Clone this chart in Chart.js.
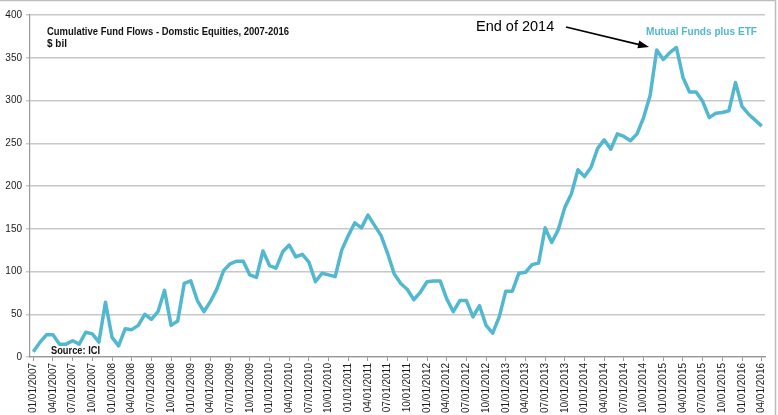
<!DOCTYPE html>
<html>
<head>
<meta charset="utf-8">
<script src="https://cdn.jsdelivr.net/npm/chart.js@4/dist/chart.umd.min.js"></script>
<style>
  html, body { margin: 0; padding: 0; background: #fff; }
  #wrap { width: 778px; height: 415px; position: relative; }
</style>
</head>
<body>
<div id="wrap"><canvas id="flows"></canvas></div>
<script>
// monthly points, 01/01/2007 .. 04/01/2016
const startYear = 2007;
const monthCount = 112;
const flows = [
    6, 17, 26, 26, 15, 15, 19, 15, 29, 27, 17.5, 64,
    23, 13, 33, 32, 37, 50, 44, 53, 78, 37, 42, 86,
    89, 66, 53, 65, 80, 101, 109, 112, 112, 96, 93, 124,
    107, 104, 123, 131, 117, 120, 111, 88, 98, 96, 94, 125,
    142, 157, 151, 166, 154, 142, 121, 97, 86, 79, 67, 76,
    88, 89, 89, 68, 53, 66, 66, 47, 60, 37, 28, 47,
    77, 77, 98, 99, 108, 110, 151, 134, 149, 175, 191, 219,
    211, 222, 244, 254, 243, 261, 258, 253, 261, 280, 306, 359,
    348, 356, 362, 327, 310, 310, 299, 280, 285, 286, 288, 321,
    293, 284, 277, 270
];
const yTicks = [0, 50, 100, 150, 200, 250, 300, 350, 400];
const labelEvery = 3;

const months = [];
for (let i = 0; i < monthCount; i++) {
    const y = startYear + Math.floor(i / 12);
    const m = (i % 12) + 1;
    months.push((m < 10 ? '0' + m : '' + m) + '/01/' + y);
}

const lineColor = '#52b8d0';
const gridColor = '#c8c8c8';

// text and arrow drawn on top
const notes = {
    id: 'notes',
    afterDraw(chart) {
        const c = chart.ctx;
        c.save();
        // frame edges seen in the screenshot
        c.strokeStyle = '#bdbdbd';
        c.lineWidth = 1.5;
        c.beginPath();
        c.moveTo(0, 0.5); c.lineTo(775, 0.5);
        c.moveTo(775.5, 0); c.lineTo(775.5, 415);
        c.stroke();

        c.textBaseline = 'middle';
        c.fillStyle = '#111';
        c.font = 'bold 10px "Liberation Sans"';
        c.fillText('Cumulative Fund Flows - Domstic Equities, 2007-2016', 47, 32, 242);
        c.fillText('$ bil', 47, 44);
        c.fillText('Source: ICI', 51, 351, 49);

        c.fillStyle = lineColor;
        c.font = 'bold 11px "Liberation Sans"';
        c.fillText('Mutual Funds plus ETF', 646, 32, 111);

        c.fillStyle = '#000';
        c.font = '14.5px "Liberation Sans"';
        c.fillText('End of 2014', 476, 27, 79);

        // arrow
        const x0 = 566, y0 = 27, x1 = 649, y1 = 47;
        const a = Math.atan2(y1 - y0, x1 - x0);
        c.strokeStyle = '#000';
        c.lineWidth = 1.6;
        c.beginPath();
        c.moveTo(x0, y0);
        c.lineTo(x1 - 8 * Math.cos(a), y1 - 8 * Math.sin(a));
        c.stroke();
        c.beginPath();
        c.moveTo(x1, y1);
        c.lineTo(x1 - 11 * Math.cos(a) + 4 * Math.sin(a), y1 - 11 * Math.sin(a) - 4 * Math.cos(a));
        c.lineTo(x1 - 11 * Math.cos(a) - 4 * Math.sin(a), y1 - 11 * Math.sin(a) + 4 * Math.cos(a));
        c.closePath();
        c.fill();
        c.restore();
    }
};

new Chart(document.getElementById('flows'), {
    type: 'line',
    data: {
        labels: months,
        datasets: [{
            label: 'Mutual Funds plus ETF',
            data: flows,
            borderColor: lineColor,
            borderWidth: 3.5,
            borderJoinStyle: 'round',
            pointRadius: 0,
            tension: 0,
            fill: false
        }]
    },
    options: {
        responsive: true,
        maintainAspectRatio: false,
        animation: false,
        layout: { padding: { top: 15, right: 13, left: 0, bottom: 0 } },
        plugins: {
            legend: { display: false },
            tooltip: { enabled: false }
        },
        scales: {
            x: {
                type: 'category',
                offset: true,
                afterFit: (s) => { s.height = 58; },
                grid: {
                    offset: false,
                    drawOnChartArea: false,
                    tickLength: 4,
                    color: (ctx) => (ctx.index % labelEvery === 0 ? '#999' : 'rgba(0,0,0,0)')
                },
                border: { color: '#999', width: 1.2 },
                ticks: {
                    autoSkip: false,
                    maxRotation: 90,
                    minRotation: 90,
                    padding: 2,
                    color: '#1a1a1a',
                    font: { family: '"Liberation Sans"', size: 10 },
                    callback: function (v, i) { return i % labelEvery === 0 ? this.getLabelForValue(v) : ''; }
                }
            },
            y: {
                min: yTicks[0],
                max: yTicks[yTicks.length - 1],
                afterFit: (s) => { s.width = 30; },
                afterBuildTicks: (s) => { s.ticks = yTicks.map(v => ({ value: v })); },
                grid: { color: gridColor, lineWidth: 1.5, tickLength: 4 },
                border: { color: '#999', width: 1.2 },
                ticks: {
                    padding: 4,
                    color: '#1a1a1a',
                    font: { family: '"Liberation Sans"', size: 10 }
                }
            }
        }
    },
    plugins: [notes]
});
</script>
</body>
</html>
